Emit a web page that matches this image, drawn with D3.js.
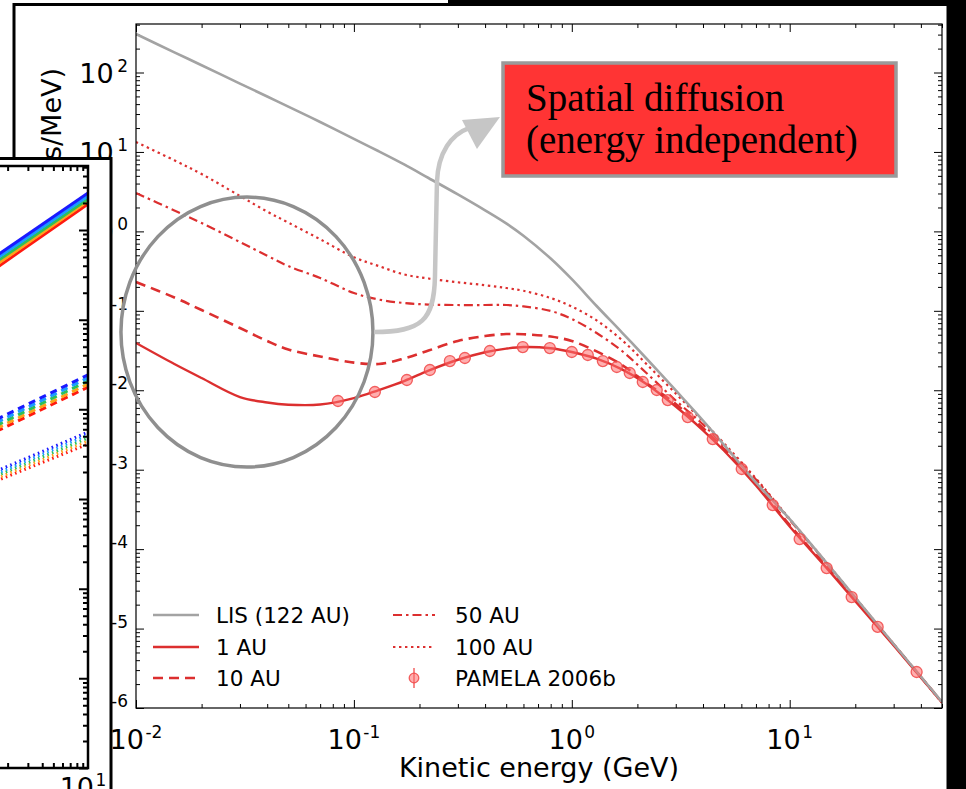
<!DOCTYPE html>
<html>
<head>
<meta charset="utf-8">
<script src="https://cdn.jsdelivr.net/npm/d3@7"></script>
<style>
  html, body { margin: 0; padding: 0; background: #000; }
  svg { display: block; }
  text { font-family: "DejaVu Sans", sans-serif; fill: #000; }
</style>
</head>
<body>
<svg id="chart" width="966" height="789"></svg>
<script>
// ---------- main figure: proton spectra at several heliocentric distances ----------
const energy = [0.01, 0.015, 0.02, 0.03, 0.04, 0.05, 0.07, 0.1, 0.13, 0.17, 0.22, 0.3, 0.4, 0.5, 0.6, 0.8,
                1.0, 1.3, 1.7, 2.2, 3, 4, 5, 7, 10, 15, 20, 30, 50];
const fluxLIS = [305, 179.5, 123.5, 72.6, 49.9, 37.2, 23.8, 14.6, 10.2, 6.97, 4.70, 2.92, 1.84, 1.26, 0.88, 0.455,
                 0.250, 0.115, 0.0533, 0.0251, 0.00993, 0.00416, 0.00205, 6.90e-4, 2.39e-4, 6.39e-5, 2.46e-5, 6.40e-6, 1.19e-6];
const flux1AU = [0.0394, 0.0214, 0.01426, 0.00822, 0.00702, 0.00658, 0.00661, 0.00798, 0.01007, 0.01306, 0.01766, 0.0242, 0.0301, 0.0334, 0.0350, 0.0338,
                 0.0303, 0.0250, 0.01828, 0.0120, 0.00624, 0.00313, 0.00173, 6.32e-4, 1.93e-4, 5.52e-5, 2.21e-5, 6.12e-6, 1.17e-6];
const flux10AU = [0.2305, 0.1471, 0.1023, 0.0607, 0.0417, 0.0326, 0.0266, 0.0223, 0.0214, 0.0251, 0.0316, 0.0417, 0.0482, 0.0510, 0.0507, 0.0475,
                  0.0417, 0.0308, 0.0208, 0.01233, 0.00671, 0.00335, 0.00182, 6.61e-4, 2.01e-4, 5.70e-5, 2.29e-5, 6.30e-6, 1.18e-6];
const flux50AU = [3.04, 1.83, 1.274, 0.734, 0.494, 0.366, 0.259, 0.1675, 0.1387, 0.1253, 0.1199, 0.1183, 0.1183, 0.1183, 0.1136, 0.0995,
                  0.0789, 0.0525, 0.0312, 0.01648, 0.00743, 0.00371, 0.001986, 7.52e-4, 2.33e-4, 6.31e-5, 2.43e-5, 6.35e-6, 1.19e-6];
const flux100AU = [13.33, 7.84, 5.27, 2.79, 1.774, 1.289, 0.796, 0.473, 0.366, 0.287, 0.255, 0.2287, 0.210, 0.1936, 0.1787, 0.1449,
                   0.1132, 0.0757, 0.0428, 0.0214, 0.0091, 0.00406, 0.00214, 7.74e-4, 2.40e-4, 6.4e-5, 2.45e-5, 6.38e-6, 1.16e-6];

const pamelaE = [0.0845, 0.1248, 0.1750, 0.2232, 0.2757, 0.3230, 0.4206, 0.5957, 0.7925, 1.0, 1.184, 1.388, 1.609,
                 1.845, 2.117, 2.454, 2.757, 3.405, 4.435, 6.024, 8.356, 11.11, 14.78, 19.25, 25.33, 38.24];
const pamelaF = [0.00732, 0.00951, 0.01346, 0.01799, 0.02333, 0.02547, 0.03119, 0.0350, 0.0340, 0.0303, 0.0278, 0.02333, 0.01963,
                 0.01648, 0.01271, 0.01007, 0.00753, 0.00460, 0.00243, 0.00102, 3.59e-4, 1.34e-4, 5.78e-5, 2.49e-5, 1.05e-5, 2.84e-6];

const xTickExps = [-2, -1, 0, 1];
const yTickExps = [2, 1, 0, -1, -2, -3, -4, -5, -6];

// ---------- partly hidden companion panel on the left ----------
const panelEnergy = [1.6, 10];
const panelColors = ["#ff1a10", "#ffa31a", "#2cc05a", "#1a9cff", "#1a1aff"];
const panelSolid  = [[37.9, 195], [41.0, 210], [44.3, 221], [47.8, 239], [51.6, 258]];
const panelDashed = [[0.567, 1.77], [0.612, 1.91], [0.661, 2.07], [0.714, 2.24], [0.771, 2.42]];
const panelDotted = [[0.159, 0.410], [0.170, 0.444], [0.181, 0.479], [0.192, 0.518], [0.205, 0.558]];

// ---------- layout ----------
const W = 966, H = 789;
const svg = d3.select("#chart");
const RED = "#dc2f2f";
const GREY = "#a3a3a3";

svg.append("rect").attr("width", W).attr("height", H).attr("fill", "#000");
svg.append("rect").attr("x", 0).attr("y", 0).attr("width", 448).attr("height", H).attr("fill", "#fff");
// figure sheet with its black frame
svg.append("rect").attr("x", 14).attr("y", 4.5).attr("width", 934).attr("height", 800)
  .attr("fill", "#fff").attr("stroke", "#000").attr("stroke-width", 3);

const L = 136, R = 942, T = 24, B = 708;
const x = d3.scaleLog().domain([0.01, 50]).range([L, R]);
const y = d3.scaleLog().domain([1e-6, 408]).range([B, T]);

const plot = svg.append("g");
plot.append("defs").append("clipPath").attr("id", "plotClip")
  .append("rect").attr("x", L).attr("y", T).attr("width", R - L).attr("height", B - T);

// ticks (inward, on all four sides)
const majX = xTickExps.map(e => Math.pow(10, e));
const minX = [];
for (let e = -2; e <= 1; e++) for (let k = 2; k <= 9; k++) { const v = k * Math.pow(10, e); if (v <= 50) minX.push(v); }
const majY = d3.range(-6, 3).map(e => Math.pow(10, e));
const minY = [];
for (let e = -6; e <= 2; e++) for (let k = 2; k <= 9; k++) { const v = k * Math.pow(10, e); if (v <= 408) minY.push(v); }

function tickAxis(gen, transform, vals, size) {
  plot.append("g").attr("transform", transform)
    .call(gen.tickValues(vals).tickSize(size).tickFormat(""))
    .call(g => g.select(".domain").remove())
    .call(g => g.selectAll("line").attr("stroke", "#000").attr("stroke-width", 1));
}
tickAxis(d3.axisBottom(x), `translate(0,${B})`, majX, -8);
tickAxis(d3.axisBottom(x), `translate(0,${B})`, minX, -4);
tickAxis(d3.axisTop(x), `translate(0,${T})`, majX, -8);
tickAxis(d3.axisTop(x), `translate(0,${T})`, minX, -4);
tickAxis(d3.axisLeft(y), `translate(${L},0)`, majY, -8);
tickAxis(d3.axisLeft(y), `translate(${L},0)`, minY, -4);
tickAxis(d3.axisRight(y), `translate(${R},0)`, majY, -8);
tickAxis(d3.axisRight(y), `translate(${R},0)`, minY, -4);

// curves: modulated spectra first, the interstellar spectrum on top
const curves = [
  { name: "100 AU", flux: flux100AU, color: RED, dash: "2.4,3.6", w: 2.2 },
  { name: "50 AU", flux: flux50AU, color: RED, dash: "9,4,2.5,4", w: 2.2 },
  { name: "10 AU", flux: flux10AU, color: RED, dash: "10,6", w: 2.6 },
  { name: "1 AU", flux: flux1AU, color: RED, dash: null, w: 2.4 },
  { name: "LIS (122 AU)", flux: fluxLIS, color: GREY, dash: null, w: 2.6 }
];
const line = d3.line().x(d => x(d[0])).y(d => y(d[1])).curve(d3.curveCatmullRom.alpha(0.5));
const curveG = plot.append("g").attr("clip-path", "url(#plotClip)");
curves.forEach(c => {
  curveG.append("path")
    .attr("d", line(energy.map((e, i) => [e, c.flux[i]])))
    .attr("fill", "none").attr("stroke", c.color).attr("stroke-width", c.w)
    .attr("stroke-dasharray", c.dash);
});

// PAMELA 2006b measurements
curveG.append("g").selectAll("circle").data(pamelaE.map((e, i) => [e, pamelaF[i]])).join("circle")
  .attr("cx", d => x(d[0])).attr("cy", d => y(d[1])).attr("r", 5.5)
  .attr("fill", "rgba(255,110,110,0.55)").attr("stroke", "rgba(240,70,70,0.85)").attr("stroke-width", 1.3);

// frame
plot.append("rect").attr("x", L).attr("y", T).attr("width", R - L).attr("height", B - T)
  .attr("fill", "none").attr("stroke", "#000").attr("stroke-width", 1.2);

// tick labels with superscript exponents
function powLabel(sel, exp, gap) {
  sel.append("tspan").text("10");
  sel.append("tspan").attr("dx", gap).attr("dy", -11).attr("font-size", 17)
    .text(exp < 0 ? "-" + (-exp) : String(exp));
}
xTickExps.forEach(e => {
  plot.append("text").attr("x", x(Math.pow(10, e))).attr("y", 749)
    .attr("text-anchor", "middle").attr("font-size", 27).call(powLabel, e, 1.5);
});
yTickExps.forEach(e => {
  plot.append("text").attr("x", 128).attr("y", y(Math.pow(10, e)) + 10)
    .attr("text-anchor", "end").attr("font-size", 27).call(powLabel, e, 3.5);
});

plot.append("text").attr("x", (L + R) / 2).attr("y", 777).attr("text-anchor", "middle")
  .attr("font-size", 27).text("Kinetic energy (GeV)");
plot.append("text").attr("transform", "translate(61,68) rotate(-90)").attr("text-anchor", "end")
  .attr("font-size", 27).text("Differential intensity (particles/m²/sr/s/MeV)");

// legend
const legend = plot.append("g").attr("font-size", 21.5);
const legendItems = [
  { label: "LIS (122 AU)", color: GREY, dash: null, w: 2.6, col: 0, row: 0 },
  { label: "1 AU", color: RED, dash: null, w: 2.4, col: 0, row: 1 },
  { label: "10 AU", color: RED, dash: "10,6", w: 2.6, col: 0, row: 2 },
  { label: "50 AU", color: RED, dash: "9,4,2.5,4", w: 2.2, col: 1, row: 0 },
  { label: "100 AU", color: RED, dash: "2.4,3.6", w: 2.2, col: 1, row: 1 },
  { label: "PAMELA 2006b", marker: true, col: 1, row: 2 }
];
const colX = [[153, 199, 216], [393, 435, 455]];
const rowY = [615, 647, 678];
legendItems.forEach(it => {
  const [x0, x1, tx] = colX[it.col];
  const cy = rowY[it.row];
  if (it.marker) {
    const mx = (x0 + x1) / 2;
    legend.append("line").attr("x1", mx).attr("x2", mx).attr("y1", cy - 10).attr("y2", cy + 10)
      .attr("stroke", "rgba(240,70,70,0.85)").attr("stroke-width", 1.5);
    legend.append("circle").attr("cx", mx).attr("cy", cy).attr("r", 4.8)
      .attr("fill", "rgba(255,110,110,0.55)").attr("stroke", "rgba(240,70,70,0.85)").attr("stroke-width", 1.3);
  } else {
    legend.append("line").attr("x1", x0).attr("x2", x1).attr("y1", cy).attr("y2", cy)
      .attr("stroke", it.color).attr("stroke-width", it.w).attr("stroke-dasharray", it.dash);
  }
  legend.append("text").attr("x", tx).attr("y", cy + 8).text(it.label);
});

// annotation: low-energy region circled, arrow to the callout
const ann = plot.append("g");
ann.append("ellipse").attr("cx", x(0.0323)).attr("cy", y(0.054)).attr("rx", 126).attr("ry", 135)
  .attr("fill", "none").attr("stroke", "#8f8f8f").attr("stroke-width", 3.5);
const ax0 = x(0.0323) + 127, ay0 = y(0.054);
ann.append("path")
  .attr("d", `M${ax0},${ay0} C${ax0 + 48},${ay0} ${ax0 + 60},${ay0 - 12} ${ax0 + 61},${ay0 - 55}
              L${ax0 + 63},${ay0 - 150} C${ax0 + 64},${ay0 - 180} ${ax0 + 78},${ay0 - 198} ${ax0 + 95},${ay0 - 204}`)
  .attr("fill", "none").attr("stroke", "#c6c6c6").attr("stroke-width", 4.5);
ann.append("path")
  .attr("d", `M${ax0 + 126},${ay0 - 215} L${ax0 + 88},${ay0 - 212} L${ax0 + 103},${ay0 - 183} Z`)
  .attr("fill", "#c6c6c6");

// callout box
const box = plot.append("g");
box.append("rect").attr("x", 503).attr("y", 63).attr("width", 393).attr("height", 113)
  .attr("fill", "#ff3434").attr("stroke", "#9a9a9a").attr("stroke-width", 3.5);
box.append("text").attr("x", 526).attr("y", 111).attr("font-size", 39)
  .style("font-family", "'Liberation Serif', 'Times New Roman', serif").text("Spatial diffusion");
box.append("text").attr("x", 526).attr("y", 153).attr("font-size", 39)
  .style("font-family", "'Liberation Serif', 'Times New Roman', serif").text("(energy independent)");

// ---------- companion panel (covers the left edge of the figure) ----------
const pc = svg.append("g");
pc.append("defs").append("clipPath").attr("id", "pcClip")
  .append("rect").attr("x", 0).attr("y", 160).attr("width", 109.5).attr("height", 640);
pc.append("rect").attr("x", -3).attr("y", 158.5).attr("width", 114).attr("height", 640)
  .attr("fill", "#fff").attr("stroke", "#000").attr("stroke-width", 3);
const inner = pc.append("g").attr("clip-path", "url(#pcClip)");
const xc = d3.scaleLog().domain([1, 10]).range([-27, 88]);
const yc = d3.scaleLog().domain([1e-4, 1e3]).range([768, 140.3]);
const pcT = 166, pcB = 768, pcR = 88;

const pcLine = d3.line().x(d => xc(d[0])).y(d => yc(d[1]));
[[panelDotted, "1.6,3.4"], [panelDashed, "7,5"], [panelSolid, null]].forEach(([set, dash]) => {
  set.forEach((v, i) => {
    inner.append("path").attr("d", pcLine(panelEnergy.map((e, j) => [e, v[j]])))
      .attr("fill", "none").attr("stroke", panelColors[i]).attr("stroke-width", 3)
      .attr("stroke-dasharray", dash);
  });
});

const pcMinX = [2, 3, 4, 5, 6, 7, 8, 9];
const pcMajY = d3.range(-4, 3).map(e => Math.pow(10, e));
const pcMinY = [];
for (let e = -4; e <= 2; e++) for (let k = 2; k <= 9; k++) pcMinY.push(k * Math.pow(10, e));
function pcTicks(gen, transform, vals, size) {
  inner.append("g").attr("transform", transform)
    .call(gen.tickValues(vals).tickSize(size).tickFormat(""))
    .call(g => g.select(".domain").remove())
    .call(g => g.selectAll("line").attr("stroke", "#000").attr("stroke-width", 2));
}
pcTicks(d3.axisRight(yc), `translate(${pcR},0)`, pcMajY, -9);
pcTicks(d3.axisRight(yc), `translate(${pcR},0)`, pcMinY.filter(v => yc(v) > pcT), -5);
pcTicks(d3.axisTop(xc), `translate(0,${pcT})`, pcMinX, -5);
pcTicks(d3.axisBottom(xc), `translate(0,${pcB})`, pcMinX, -5);
inner.append("path").attr("d", `M-5,${pcT} H${pcR} V${pcB} H-5`)
  .attr("fill", "none").attr("stroke", "#000").attr("stroke-width", 2.5);
inner.append("text").attr("x", xc(10) - 5).attr("y", 797).attr("text-anchor", "middle")
  .attr("font-size", 27).call(powLabel, 1, 1.5);
</script>
</body>
</html>
